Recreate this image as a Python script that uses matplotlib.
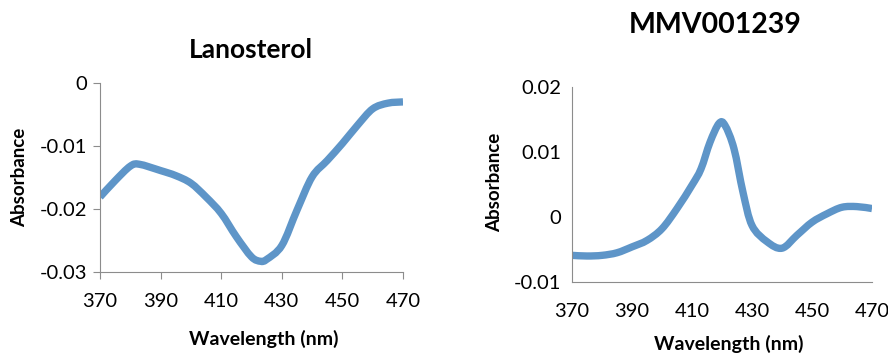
import matplotlib.pyplot as plt
from matplotlib.path import Path
from matplotlib.patches import PathPatch

plt.rcParams['font.family'] = ['Lato', 'DejaVu Sans']

# Lanosterol spectrum
wl_lano = [370, 375, 380, 383, 390, 395, 400, 405, 410, 415, 420, 423, 425,
           430, 435, 440, 445, 450, 455, 460, 465, 470]
abs_lano = [-0.0181, -0.0155, -0.0132, -0.0129, -0.0139, -0.0147, -0.0159,
            -0.0181, -0.0207, -0.0244, -0.0276, -0.0283, -0.0280, -0.0258,
            -0.0202, -0.0149, -0.0123, -0.0096, -0.0067, -0.0041, -0.0032,
            -0.0030]

# MMV001239 spectrum
wl_mmv = [370, 375, 380, 385, 390, 395, 400, 405, 410, 413, 416, 419, 421,
          424, 427, 430, 435, 440, 445, 450, 455, 460, 465, 470]
abs_mmv = [-0.0059, -0.0060, -0.0059, -0.0055, -0.0046, -0.0036, -0.0018,
           0.0013, 0.0049, 0.0074, 0.0115, 0.0144, 0.0141, 0.0105, 0.0038,
           -0.0013, -0.0038, -0.0048, -0.0028, -0.0008, 0.0005, 0.0015,
           0.0016, 0.0013]

x_ticks = [370, 390, 410, 430, 450, 470]
line_col = '#5E95C8'
spine_col = '#8C8C8C'


def smooth_line(ax, xs, ys, **kw):
    # Excel-style smoothed line: cubic bezier through every point
    n = len(xs)
    verts = [(xs[0], ys[0])]
    codes = [Path.MOVETO]
    for i in range(n - 1):
        i0 = max(i - 1, 0)
        i2 = min(i + 2, n - 1)
        c1 = (xs[i] + (xs[i + 1] - xs[i0]) / 6, ys[i] + (ys[i + 1] - ys[i0]) / 6)
        c2 = (xs[i + 1] - (xs[i2] - xs[i]) / 6, ys[i + 1] - (ys[i2] - ys[i]) / 6)
        verts += [c1, c2, (xs[i + 1], ys[i + 1])]
        codes += [Path.CURVE4] * 3
    ax.add_patch(PathPatch(Path(verts, codes), fill=False, **kw))


fig = plt.figure(figsize=(8.88, 3.58), dpi=100)
ax1 = fig.add_axes([100 / 888, 86 / 358, 303 / 888, 189 / 358])
ax2 = fig.add_axes([572 / 888, 76 / 358, 300 / 888, 195 / 358])

# left panel
smooth_line(ax1, wl_lano, abs_lano, edgecolor=line_col, lw=5.3,
            capstyle='butt', joinstyle='round')
ax1.set_xlim(370, 470)
ax1.set_ylim(-0.03, 0)
ax1.set_xticks(x_ticks)
ax1.set_yticks([-0.03, -0.02, -0.01, 0])
ax1.set_yticklabels(['-0.03', '-0.02', '-0.01', '0'])
ax1.tick_params(axis='x', length=5, color=spine_col, pad=10, labelsize=14.5)
ax1.tick_params(axis='y', length=5, color=spine_col, pad=4.5, labelsize=14.5)
ax1.set_xlabel('Wavelength (nm)', fontsize=14, fontweight='bold')
ax1.xaxis.set_label_coords(0.54, -0.307)
ax1.set_ylabel('Absorbance', fontsize=13.5, fontweight='bold')
ax1.yaxis.set_label_coords(-0.238, 0.5)
fig.text(251 / 888, 1 - 58 / 358, 'Lanosterol', fontsize=19, fontweight='bold',
         ha='center', va='baseline')

# right panel
smooth_line(ax2, wl_mmv, abs_mmv, edgecolor=line_col, lw=5.3,
            capstyle='butt', joinstyle='round')
ax2.set_xlim(370, 470)
ax2.set_ylim(-0.01, 0.02)
ax2.set_xticks(x_ticks)
ax2.set_yticks([-0.01, 0, 0.01, 0.02])
ax2.set_yticklabels(['-0.01', '0', '0.01', '0.02'])
ax2.tick_params(axis='x', length=0, pad=15, labelsize=14.5)
ax2.tick_params(axis='y', length=0, pad=8, labelsize=14.5)
ax2.set_xlabel('Wavelength (nm)', fontsize=14, fontweight='bold')
ax2.xaxis.set_label_coords(0.523, -0.272)
ax2.set_ylabel('Absorbance', fontsize=13.5, fontweight='bold')
ax2.yaxis.set_label_coords(-0.23, 0.51)
fig.text(715 / 888, 1 - 33 / 358, 'MMV001239', fontsize=20.5, fontweight='bold',
         ha='center', va='baseline')

for ax in (ax1, ax2):
    ax.spines['top'].set_visible(False)
    ax.spines['right'].set_visible(False)
    ax.spines['left'].set_color(spine_col)
    ax.spines['bottom'].set_color(spine_col)

fig.savefig('out.png', dpi=100)
